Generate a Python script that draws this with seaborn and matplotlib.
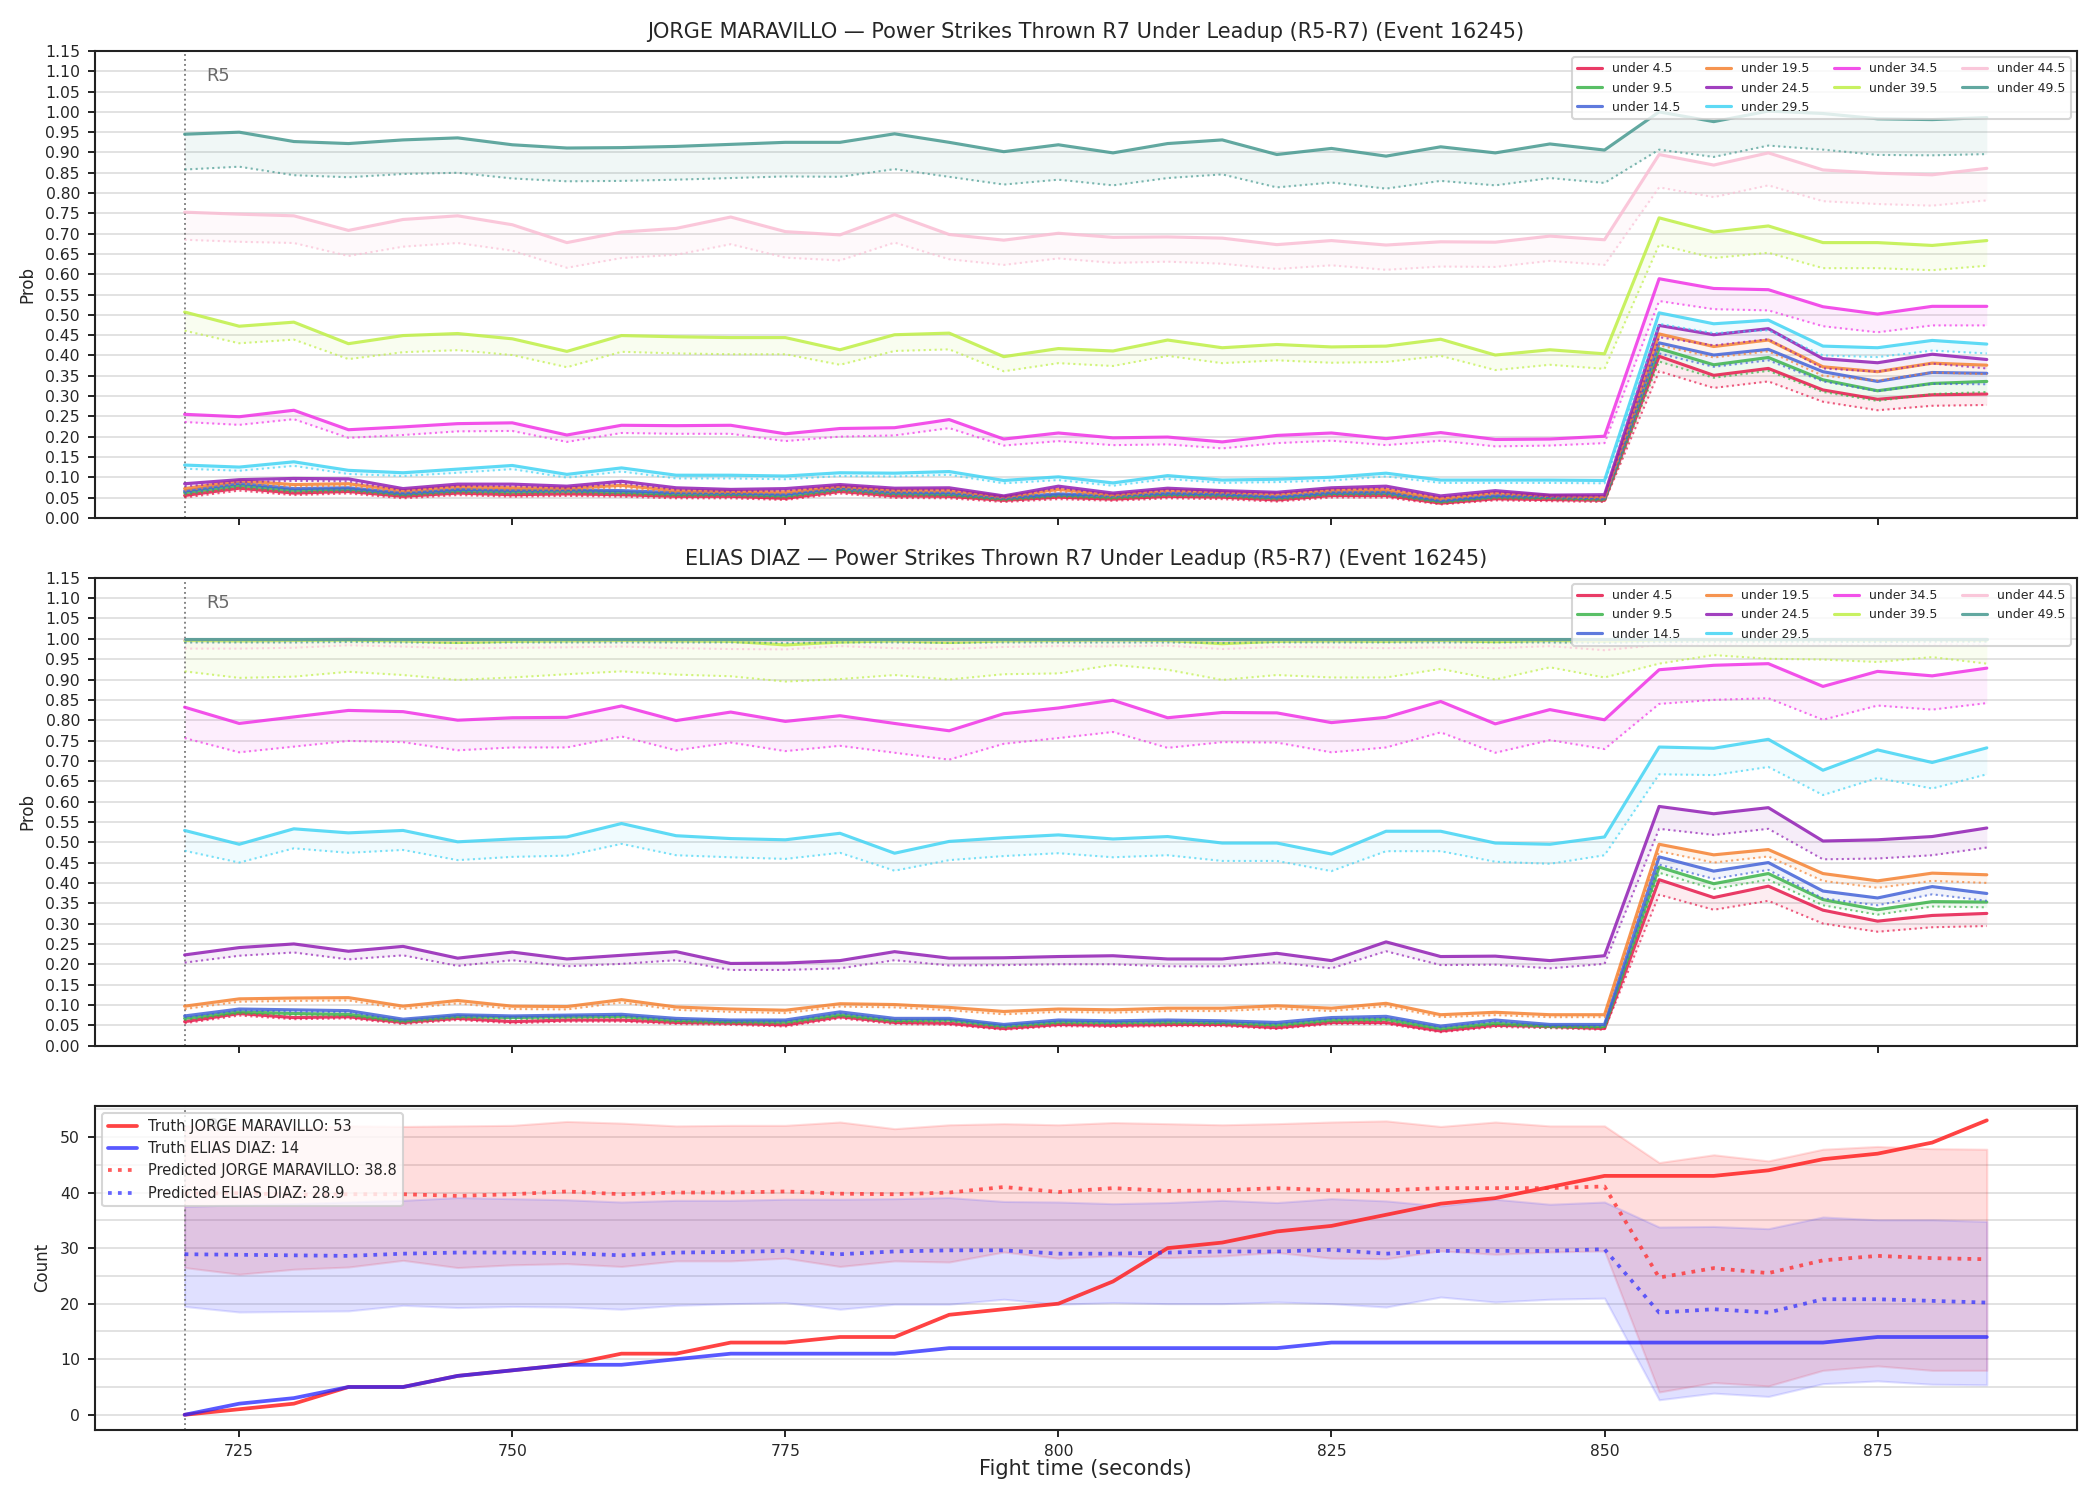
import matplotlib
matplotlib.use("Agg")
import matplotlib.pyplot as plt
import matplotlib.transforms as mtransforms
from matplotlib.ticker import MultipleLocator
import numpy as np
import pandas as pd
import seaborn as sns

sns.set_style("white")
plt.rcParams["font.family"] = ["DejaVu Sans"]

# fight time (seconds), 720..885 every 5s
t = list(range(720, 886, 5))

labels = ["under 4.5", "under 9.5", "under 14.5", "under 19.5", "under 24.5",
          "under 29.5", "under 34.5", "under 39.5", "under 44.5", "under 49.5"]
colors = ["#e6194b", "#3cb44b", "#4363d8", "#f58231", "#911eb4",
          "#42d4f4", "#f032e6", "#bfef45", "#fabed4", "#469990"]

# ---------------- JORGE MARAVILLO: probability (solid) and lower bound (dotted)
jm_u45 = [0.055,0.073,0.061,0.065,0.053,0.061,0.057,0.059,0.057,0.053,0.053,0.048,0.065,0.054,0.053,0.043,0.051,0.046,0.053,0.051,0.044,0.055,0.055,0.036,0.047,0.045,0.043,0.398,0.351,0.368,0.315,0.292,0.303,0.305]
jm_u45_lo = [0.050,0.067,0.056,0.060,0.048,0.056,0.052,0.054,0.052,0.048,0.048,0.044,0.060,0.049,0.048,0.039,0.046,0.042,0.048,0.046,0.040,0.050,0.050,0.033,0.043,0.041,0.039,0.361,0.320,0.336,0.286,0.265,0.276,0.278]
jm_u95 = [0.062,0.080,0.068,0.071,0.058,0.067,0.064,0.066,0.063,0.058,0.058,0.054,0.071,0.060,0.058,0.047,0.056,0.051,0.058,0.056,0.049,0.060,0.061,0.040,0.052,0.050,0.046,0.417,0.377,0.395,0.340,0.313,0.331,0.336]
jm_u95_lo = [0.057,0.074,0.063,0.066,0.054,0.062,0.059,0.061,0.058,0.054,0.054,0.050,0.066,0.055,0.054,0.043,0.052,0.047,0.054,0.052,0.045,0.056,0.056,0.037,0.048,0.046,0.042,0.385,0.345,0.362,0.310,0.288,0.305,0.310]
jm_u145 = [0.066,0.085,0.072,0.074,0.061,0.070,0.068,0.069,0.067,0.062,0.061,0.058,0.074,0.063,0.062,0.050,0.059,0.055,0.061,0.059,0.052,0.063,0.064,0.043,0.055,0.053,0.049,0.431,0.401,0.415,0.360,0.336,0.358,0.356]
jm_u145_lo = [0.061,0.079,0.067,0.069,0.057,0.065,0.063,0.064,0.062,0.058,0.057,0.054,0.069,0.058,0.057,0.046,0.055,0.051,0.057,0.055,0.048,0.058,0.059,0.040,0.051,0.049,0.045,0.405,0.372,0.388,0.336,0.312,0.330,0.329]
jm_u195 = [0.072,0.091,0.082,0.084,0.067,0.077,0.074,0.073,0.080,0.067,0.065,0.064,0.078,0.068,0.068,0.052,0.070,0.057,0.068,0.064,0.059,0.069,0.070,0.048,0.062,0.055,0.052,0.453,0.422,0.438,0.372,0.360,0.381,0.376]
jm_u195_lo = [0.067,0.085,0.077,0.079,0.062,0.072,0.069,0.068,0.075,0.062,0.061,0.060,0.073,0.063,0.063,0.048,0.065,0.053,0.063,0.060,0.055,0.064,0.065,0.044,0.058,0.051,0.048,0.425,0.395,0.410,0.350,0.338,0.358,0.354]
jm_u245 = [0.084,0.094,0.097,0.096,0.072,0.083,0.083,0.078,0.090,0.074,0.070,0.072,0.082,0.073,0.074,0.054,0.078,0.061,0.073,0.067,0.063,0.074,0.078,0.054,0.067,0.056,0.057,0.474,0.451,0.466,0.392,0.382,0.403,0.390]
jm_u245_lo = [0.078,0.088,0.091,0.090,0.067,0.078,0.078,0.073,0.085,0.069,0.065,0.067,0.077,0.068,0.069,0.050,0.073,0.057,0.068,0.062,0.059,0.069,0.073,0.050,0.062,0.052,0.053,0.445,0.425,0.440,0.368,0.360,0.380,0.368]
jm_u295 = [0.130,0.125,0.138,0.117,0.111,0.120,0.129,0.107,0.123,0.105,0.105,0.103,0.111,0.110,0.114,0.092,0.101,0.086,0.104,0.093,0.095,0.100,0.110,0.093,0.093,0.093,0.092,0.505,0.478,0.487,0.423,0.419,0.437,0.428]
jm_u295_lo = [0.121,0.116,0.128,0.108,0.103,0.111,0.120,0.099,0.114,0.097,0.097,0.095,0.103,0.102,0.106,0.085,0.093,0.079,0.096,0.086,0.088,0.092,0.102,0.086,0.086,0.086,0.085,0.478,0.455,0.462,0.400,0.396,0.412,0.405]
jm_u345 = [0.255,0.249,0.265,0.217,0.224,0.232,0.234,0.204,0.228,0.227,0.228,0.207,0.220,0.222,0.242,0.194,0.209,0.197,0.199,0.187,0.203,0.209,0.195,0.210,0.193,0.194,0.201,0.589,0.565,0.562,0.520,0.502,0.521,0.521]
jm_u345_lo = [0.236,0.229,0.243,0.197,0.204,0.213,0.214,0.187,0.209,0.207,0.207,0.189,0.200,0.203,0.221,0.178,0.189,0.179,0.181,0.171,0.184,0.190,0.179,0.190,0.176,0.178,0.184,0.534,0.514,0.511,0.472,0.457,0.474,0.474]
jm_u395 = [0.507,0.472,0.482,0.429,0.449,0.454,0.441,0.410,0.449,0.446,0.444,0.444,0.414,0.451,0.455,0.397,0.417,0.411,0.438,0.419,0.427,0.421,0.423,0.440,0.401,0.414,0.404,0.739,0.704,0.719,0.678,0.678,0.671,0.683]
jm_u395_lo = [0.461,0.430,0.439,0.391,0.408,0.413,0.401,0.371,0.409,0.405,0.403,0.403,0.377,0.411,0.415,0.361,0.381,0.374,0.399,0.381,0.388,0.382,0.384,0.399,0.364,0.377,0.367,0.673,0.640,0.653,0.615,0.615,0.610,0.621]
jm_u445 = [0.753,0.748,0.744,0.708,0.735,0.744,0.722,0.678,0.704,0.713,0.741,0.705,0.697,0.747,0.698,0.684,0.701,0.691,0.692,0.689,0.673,0.683,0.672,0.680,0.679,0.694,0.685,0.895,0.869,0.899,0.857,0.849,0.845,0.861]
jm_u445_lo = [0.685,0.680,0.677,0.645,0.668,0.677,0.658,0.616,0.640,0.648,0.674,0.641,0.634,0.678,0.637,0.623,0.639,0.628,0.631,0.626,0.613,0.622,0.611,0.619,0.618,0.633,0.623,0.814,0.790,0.819,0.780,0.773,0.769,0.782]
jm_u495 = [0.945,0.950,0.927,0.922,0.931,0.936,0.919,0.911,0.912,0.915,0.920,0.925,0.925,0.946,0.925,0.902,0.919,0.899,0.922,0.931,0.895,0.910,0.891,0.914,0.899,0.921,0.906,1.000,0.976,1.002,0.996,0.983,0.981,0.986]
jm_u495_lo = [0.858,0.865,0.844,0.839,0.847,0.850,0.836,0.829,0.830,0.833,0.837,0.841,0.840,0.859,0.840,0.821,0.833,0.819,0.837,0.846,0.814,0.826,0.811,0.830,0.819,0.837,0.825,0.907,0.889,0.917,0.907,0.894,0.893,0.896]

# ---------------- ELIAS DIAZ
ed_u45 = [0.059,0.079,0.069,0.071,0.057,0.067,0.059,0.063,0.063,0.057,0.055,0.051,0.071,0.057,0.055,0.042,0.052,0.050,0.052,0.052,0.044,0.057,0.057,0.036,0.050,0.047,0.042,0.408,0.364,0.392,0.333,0.306,0.320,0.325]
ed_u45_lo = [0.055,0.074,0.065,0.067,0.053,0.063,0.055,0.059,0.059,0.053,0.051,0.047,0.067,0.053,0.051,0.039,0.048,0.046,0.048,0.048,0.041,0.053,0.053,0.033,0.046,0.043,0.039,0.371,0.334,0.356,0.300,0.280,0.291,0.294]
ed_u95 = [0.067,0.083,0.079,0.077,0.061,0.072,0.069,0.071,0.072,0.062,0.059,0.058,0.076,0.062,0.063,0.048,0.058,0.057,0.058,0.057,0.051,0.063,0.065,0.042,0.055,0.048,0.047,0.439,0.398,0.423,0.359,0.334,0.354,0.353]
ed_u95_lo = [0.063,0.079,0.075,0.073,0.057,0.068,0.065,0.067,0.068,0.058,0.055,0.054,0.072,0.058,0.059,0.044,0.054,0.053,0.054,0.053,0.047,0.059,0.061,0.039,0.051,0.044,0.043,0.425,0.385,0.408,0.345,0.322,0.342,0.340]
ed_u145 = [0.073,0.090,0.088,0.086,0.065,0.076,0.073,0.075,0.077,0.067,0.063,0.063,0.083,0.067,0.067,0.052,0.063,0.061,0.063,0.061,0.057,0.069,0.072,0.048,0.063,0.052,0.052,0.464,0.429,0.450,0.380,0.363,0.391,0.374]
ed_u145_lo = [0.069,0.086,0.084,0.082,0.061,0.072,0.069,0.071,0.073,0.063,0.059,0.059,0.079,0.063,0.063,0.048,0.059,0.057,0.059,0.057,0.053,0.065,0.068,0.045,0.059,0.048,0.048,0.445,0.410,0.432,0.362,0.345,0.372,0.356]
ed_u195 = [0.097,0.115,0.117,0.118,0.097,0.111,0.097,0.096,0.113,0.095,0.090,0.087,0.103,0.101,0.094,0.084,0.090,0.088,0.092,0.092,0.098,0.092,0.104,0.076,0.082,0.076,0.076,0.495,0.469,0.482,0.423,0.405,0.424,0.420]
ed_u195_lo = [0.090,0.108,0.110,0.111,0.090,0.104,0.090,0.089,0.106,0.088,0.083,0.080,0.096,0.094,0.087,0.077,0.083,0.081,0.085,0.085,0.091,0.085,0.097,0.070,0.075,0.070,0.070,0.478,0.450,0.465,0.405,0.388,0.405,0.400]
ed_u245 = [0.223,0.241,0.250,0.232,0.244,0.215,0.230,0.213,0.222,0.231,0.202,0.203,0.209,0.231,0.215,0.216,0.219,0.221,0.213,0.213,0.227,0.209,0.255,0.219,0.220,0.209,0.221,0.588,0.570,0.585,0.503,0.506,0.514,0.535]
ed_u245_lo = [0.204,0.221,0.229,0.212,0.222,0.196,0.210,0.195,0.201,0.210,0.186,0.186,0.190,0.210,0.197,0.198,0.200,0.200,0.195,0.195,0.205,0.190,0.232,0.198,0.199,0.190,0.201,0.533,0.518,0.533,0.458,0.460,0.468,0.487]
ed_u295 = [0.529,0.495,0.533,0.523,0.529,0.501,0.508,0.513,0.546,0.516,0.509,0.506,0.522,0.473,0.502,0.511,0.518,0.508,0.514,0.498,0.498,0.471,0.527,0.527,0.498,0.495,0.513,0.734,0.731,0.753,0.677,0.727,0.696,0.732]
ed_u295_lo = [0.479,0.450,0.485,0.474,0.481,0.456,0.464,0.467,0.496,0.468,0.463,0.459,0.474,0.430,0.456,0.466,0.473,0.463,0.468,0.454,0.454,0.429,0.478,0.478,0.452,0.447,0.468,0.667,0.665,0.685,0.616,0.658,0.632,0.667]
ed_u345 = [0.832,0.792,0.808,0.824,0.821,0.800,0.806,0.807,0.835,0.799,0.820,0.797,0.811,0.792,0.774,0.816,0.830,0.849,0.806,0.819,0.818,0.794,0.807,0.846,0.791,0.826,0.801,0.924,0.935,0.939,0.883,0.920,0.909,0.928]
ed_u345_lo = [0.756,0.721,0.735,0.749,0.746,0.726,0.733,0.733,0.760,0.726,0.745,0.724,0.737,0.720,0.703,0.742,0.756,0.771,0.732,0.746,0.745,0.721,0.733,0.770,0.720,0.751,0.729,0.840,0.850,0.854,0.801,0.836,0.826,0.842]
ed_u395 = [0.996,0.995,0.996,0.997,0.995,0.991,0.994,0.995,0.996,0.995,0.994,0.985,0.992,0.995,0.991,0.995,0.996,0.997,0.996,0.988,0.994,0.995,0.994,0.996,0.993,0.996,0.994,0.997,0.998,0.998,0.998,0.997,0.998,0.997]
ed_u395_lo = [0.920,0.904,0.907,0.919,0.911,0.899,0.905,0.913,0.920,0.912,0.908,0.895,0.901,0.911,0.900,0.913,0.915,0.936,0.924,0.899,0.911,0.905,0.905,0.926,0.900,0.930,0.905,0.939,0.960,0.951,0.949,0.943,0.955,0.939]
ed_u445 = [0.998,0.998,0.998,0.999,0.998,0.997,0.998,0.998,0.998,0.998,0.998,0.997,0.998,0.998,0.997,0.998,0.998,0.998,0.998,0.997,0.998,0.998,0.998,0.998,0.998,0.998,0.998,0.999,0.999,0.999,0.999,0.999,0.999,0.999]
ed_u445_lo = [0.976,0.976,0.978,0.984,0.981,0.976,0.978,0.979,0.981,0.977,0.975,0.974,0.982,0.977,0.975,0.980,0.982,0.981,0.983,0.975,0.980,0.979,0.977,0.979,0.977,0.982,0.972,0.985,0.987,0.988,0.986,0.985,0.987,0.986]
ed_u495 = [1.000] * 34
ed_u495_lo = [0.991,0.991,0.991,0.992,0.991,0.990,0.991,0.991,0.991,0.991,0.991,0.990,0.991,0.991,0.990,0.991,0.991,0.991,0.991,0.990,0.991,0.991,0.991,0.991,0.991,0.991,0.990,0.992,0.993,0.993,0.993,0.992,0.993,0.993]

# ---------------- counts
truth_jm = [0,1,2,5,5,7,8,9,11,11,13,13,14,14,18,19,20,24,30,31,33,34,36,38,39,41,43,43,43,44,46,47,49,53]
truth_ed = [0,2,3,5,5,7,8,9,9,10,11,11,11,11,12,12,12,12,12,12,12,13,13,13,13,13,13,13,13,13,13,14,14,14]
pred_jm = [39.8,39.9,39.6,39.7,39.7,39.4,39.7,40.2,39.7,40.0,40.0,40.2,39.8,39.7,40.0,41.0,40.1,40.8,40.3,40.4,40.8,40.4,40.4,40.8,40.8,40.8,41.1,24.7,26.4,25.5,27.8,28.6,28.2,28.0]
pred_ed = [28.9,28.8,28.7,28.6,29.0,29.2,29.2,29.1,28.7,29.2,29.3,29.5,28.9,29.4,29.6,29.6,29.0,29.0,29.2,29.4,29.4,29.7,29.0,29.5,29.5,29.5,29.8,18.4,19.0,18.4,20.8,20.8,20.5,20.2]
jm_hi = [52.0,51.8,51.6,52.0,51.9,52.0,52.1,52.8,52.5,52.0,52.1,52.1,52.7,51.5,52.2,52.4,52.2,52.6,52.4,52.2,52.4,52.7,52.9,51.9,52.7,52.0,52.0,45.4,46.8,45.7,47.8,48.3,47.9,47.8]
jm_lo = [26.5,25.3,26.2,26.6,27.8,26.5,27.0,27.2,26.7,27.7,27.7,28.2,26.7,27.7,27.5,29.3,28.2,28.6,28.3,28.6,29.2,28.2,28.1,29.5,28.9,29.3,29.5,4.1,5.8,5.2,8.0,8.8,8.0,8.0]
ed_hi = [37.5,37.8,38.0,38.3,38.6,39.1,38.9,38.7,38.3,38.6,38.6,38.8,38.8,38.9,39.1,38.4,38.3,38.0,38.2,38.6,38.2,38.9,38.5,37.6,38.8,37.9,38.3,33.8,33.9,33.5,35.6,35.1,35.1,34.8]
ed_lo = [19.5,18.5,18.6,18.7,19.7,19.3,19.5,19.4,19.0,19.7,20.0,20.2,19.0,19.9,19.9,20.8,19.9,20.2,20.0,20.0,20.3,20.0,19.4,21.2,20.3,20.8,21.0,2.7,3.9,3.3,5.6,6.1,5.5,5.4]

jm_series = [(jm_u45, jm_u45_lo), (jm_u95, jm_u95_lo), (jm_u145, jm_u145_lo), (jm_u195, jm_u195_lo),
             (jm_u245, jm_u245_lo), (jm_u295, jm_u295_lo), (jm_u345, jm_u345_lo), (jm_u395, jm_u395_lo),
             (jm_u445, jm_u445_lo), (jm_u495, jm_u495_lo)]
ed_series = [(ed_u45, ed_u45_lo), (ed_u95, ed_u95_lo), (ed_u145, ed_u145_lo), (ed_u195, ed_u195_lo),
             (ed_u245, ed_u245_lo), (ed_u295, ed_u295_lo), (ed_u345, ed_u345_lo), (ed_u395, ed_u395_lo),
             (ed_u445, ed_u445_lo), (ed_u495, ed_u495_lo)]

fig, axes = plt.subplots(3, 1, figsize=(14, 10), dpi=150, sharex=True,
                         gridspec_kw={"height_ratios": [467, 468, 324]})
plt.subplots_adjust(left=0.045, right=0.989, top=0.966, bottom=0.047, hspace=0.143)


def mark_r5(ax):
    ax.axvline(720, color="gray", ls=":", lw=0.9, zorder=1)
    trans = mtransforms.blended_transform_factory(ax.transData, ax.transAxes)
    ax.text(722, 0.965, "R5", transform=trans, va="top", ha="left", color="dimgray", fontsize=8.5)


def prob_panel(ax, series, fighter):
    for (hi, lo), lab, c in zip(series, labels, colors):
        df = pd.DataFrame({"t": t, "hi": hi, "lo": lo})
        sns.lineplot(data=df, x="t", y="hi", ax=ax, color=c, lw=1.5, alpha=0.85, label=lab)
        sns.lineplot(data=df, x="t", y="lo", ax=ax, color=c, lw=1.0, ls=":", alpha=0.7, label="_nolegend_")
        ax.fill_between(df["t"], df["lo"], df["hi"], color=c, alpha=0.08, lw=0)
    ax.set_ylim(0, 1.15)
    ax.set_yticks(np.arange(0, 1.1501, 0.05))
    ax.set_yticklabels([f"{v:.2f}" for v in np.arange(0, 1.1501, 0.05)])
    ax.yaxis.grid(True, color="#dddddd", lw=0.8)
    ax.set_axisbelow(True)
    ax.set_ylabel("Prob", fontsize=8)
    ax.set_xlabel("")
    ax.set_title(f"{fighter} — Power Strikes Thrown R7 Under Leadup (R5-R7) (Event 16245)", fontsize=10)
    mark_r5(ax)
    ax.legend(loc="upper right", ncol=4, fontsize=6, framealpha=0.8)


prob_panel(axes[0], jm_series, "JORGE MARAVILLO")
prob_panel(axes[1], ed_series, "ELIAS DIAZ")

# ---------------- count panel
ax = axes[2]
cdf = pd.DataFrame({"t": t, "truth_jm": truth_jm, "truth_ed": truth_ed,
                    "pred_jm": pred_jm, "pred_ed": pred_ed})
ax.fill_between(t, jm_lo, jm_hi, color="#ff4444", alpha=0.18, lw=1)
ax.fill_between(t, ed_lo, ed_hi, color="#4444ff", alpha=0.16, lw=1)
sns.lineplot(data=cdf, x="t", y="truth_jm", ax=ax, color="#ff2222", lw=1.8, alpha=0.85,
             label=f"Truth JORGE MARAVILLO: {truth_jm[-1]}")
sns.lineplot(data=cdf, x="t", y="truth_ed", ax=ax, color="#2222ff", lw=1.8, alpha=0.75,
             label=f"Truth ELIAS DIAZ: {truth_ed[-1]}")
sns.lineplot(data=cdf, x="t", y="pred_jm", ax=ax, color="#ff3333", lw=1.8, ls=":", alpha=0.8,
             label="Predicted JORGE MARAVILLO: 38.8")
sns.lineplot(data=cdf, x="t", y="pred_ed", ax=ax, color="#3333ff", lw=1.8, ls=":", alpha=0.75,
             label="Predicted ELIAS DIAZ: 28.9")
ax.yaxis.set_major_locator(MultipleLocator(10))
ax.yaxis.set_minor_locator(MultipleLocator(5))
ax.yaxis.grid(True, which="both", color="#dddddd", lw=0.8)
ax.set_axisbelow(True)
ax.set_ylabel("Count", fontsize=8)
ax.set_xlabel("Fight time (seconds)", fontsize=10, labelpad=0)
mark_r5(ax)
ax.legend(loc="upper left", fontsize=7, framealpha=0.8)

ax.set_xticks([725, 750, 775, 800, 825, 850, 875])
for a in axes:
    a.tick_params(axis="both", labelsize=7.5, length=3.5, color="black")
    a.tick_params(axis="y", left=True)
    a.tick_params(axis="x", bottom=True)
    for s in a.spines.values():
        s.set_color("#222222")
        s.set_linewidth(1.0)

plt.savefig("out.png", dpi=150)
